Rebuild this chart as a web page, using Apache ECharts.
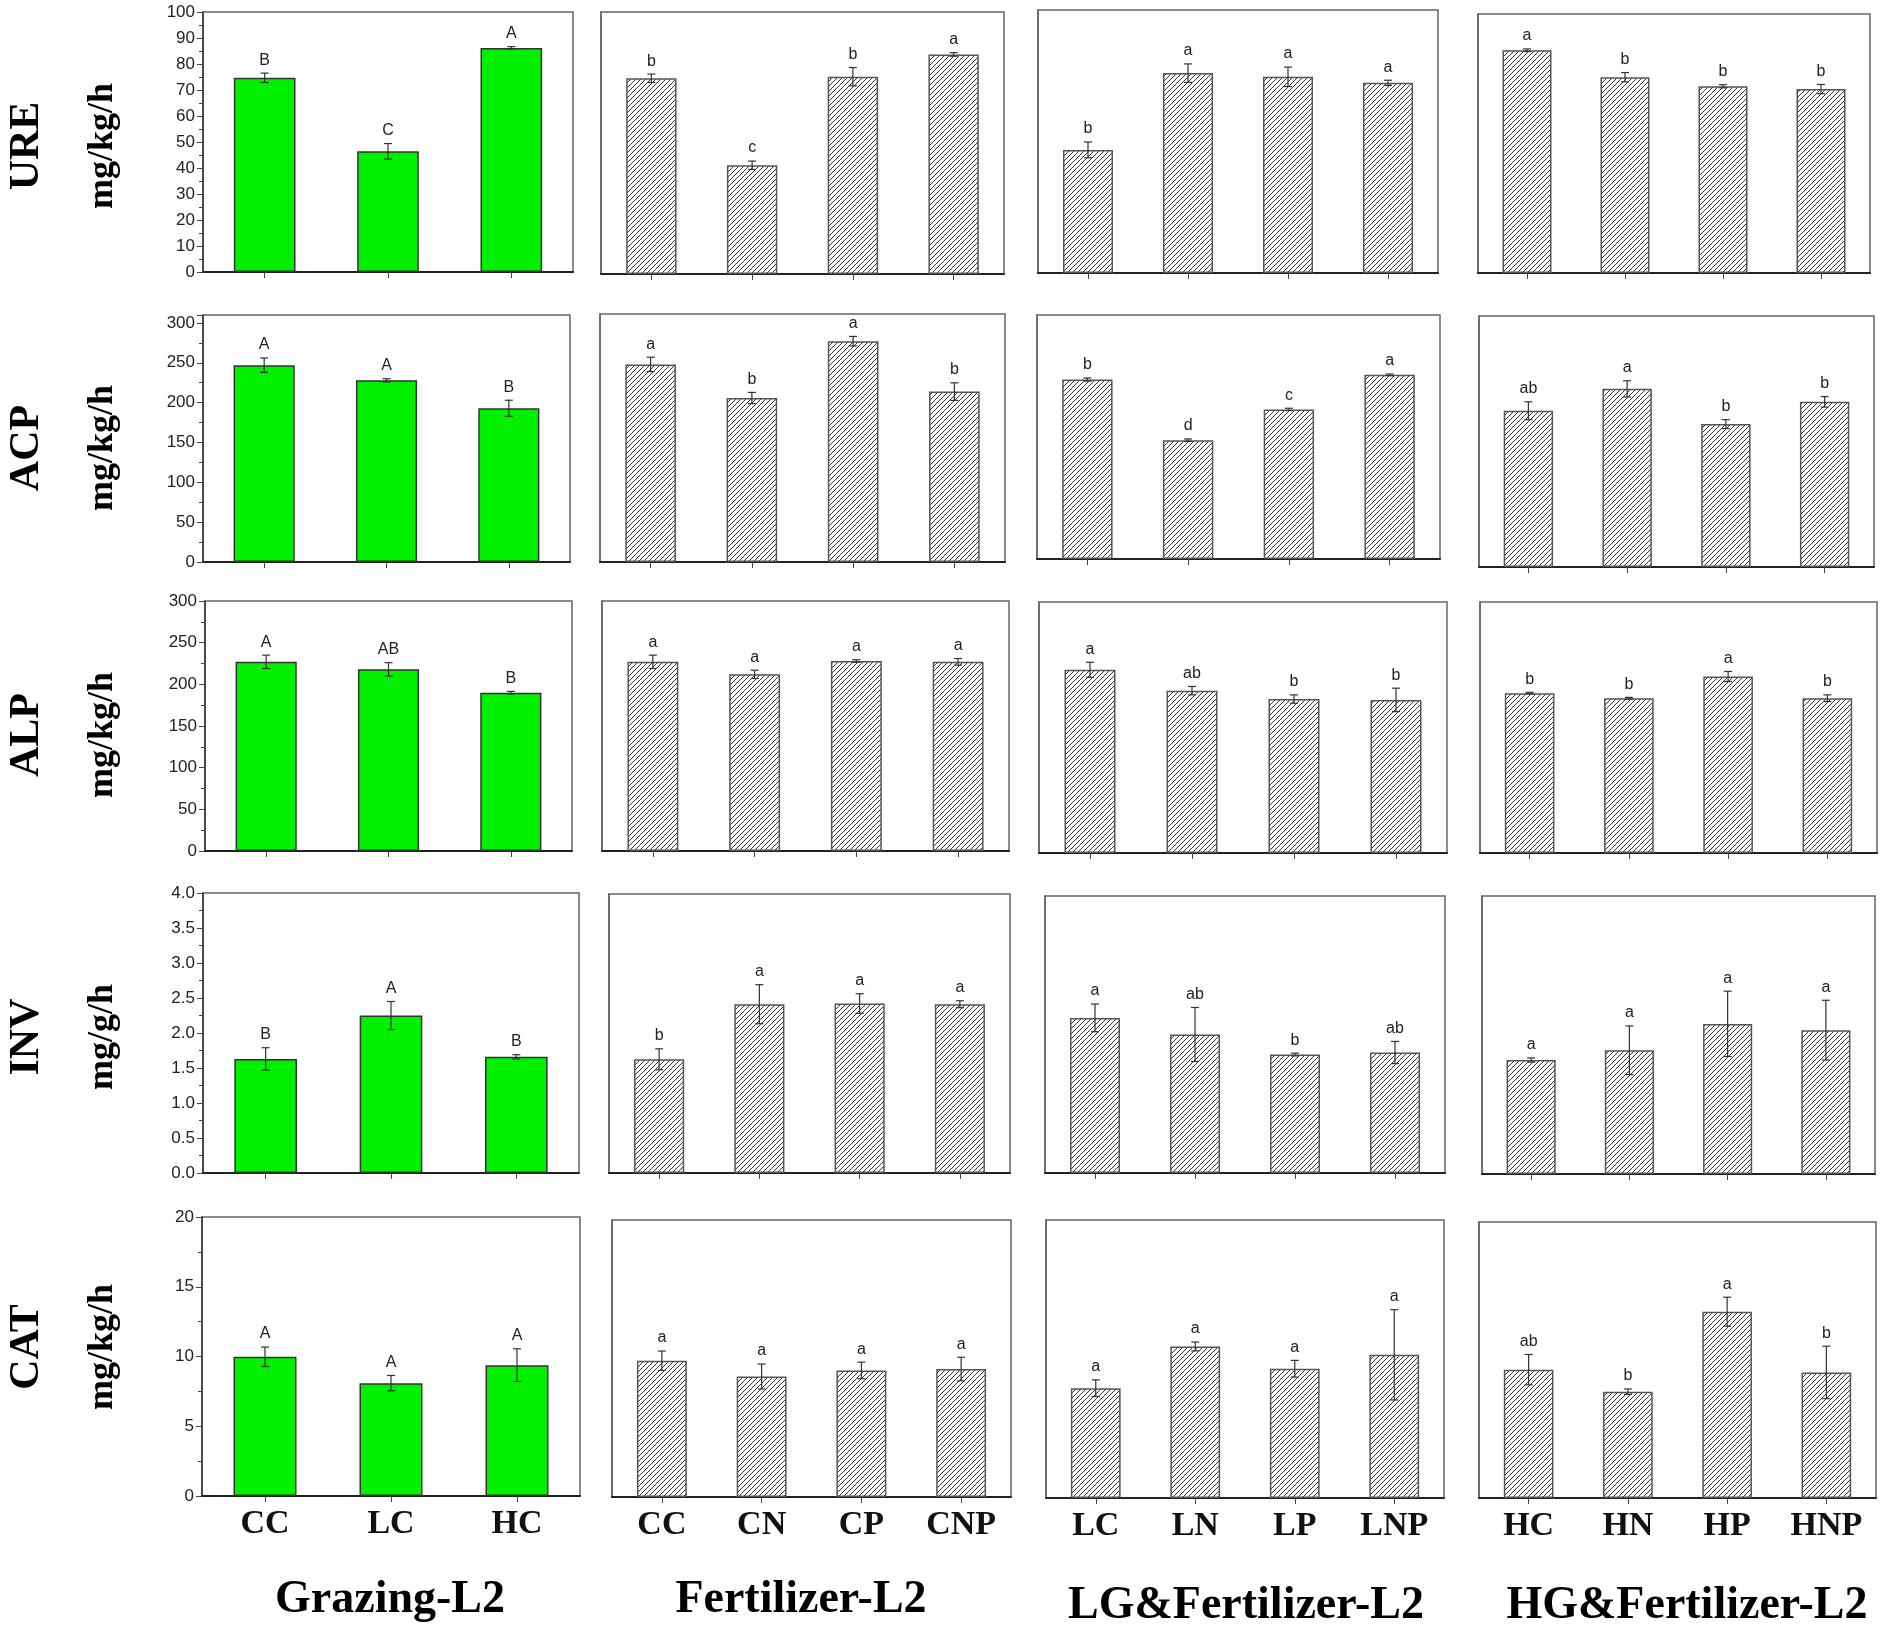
<!DOCTYPE html>
<html>
<head>
<meta charset="utf-8">
<title>Soil enzyme activity L2</title>
<script src="https://cdn.jsdelivr.net/npm/echarts@6/dist/echarts.min.js"></script>
<style>
  html, body { margin: 0; padding: 0; background: #fff; }
  #main { width: 1892px; height: 1637px; }
</style>
</head>
<body>
<div id="main"></div>
<script>
// groups (columns) and treatments
var groups = ['Grazing-L2', 'Fertilizer-L2', 'LG&Fertilizer-L2', 'HG&Fertilizer-L2'];
var treatments = [
    ['CC', 'LC', 'HC'],
    ['CC', 'CN', 'CP', 'CNP'],
    ['LC', 'LN', 'LP', 'LNP'],
    ['HC', 'HN', 'HP', 'HNP']
];
var enzymes = ['URE', 'ACP', 'ALP', 'INV', 'CAT'];
var units = ['mg/kg/h', 'mg/kg/h', 'mg/kg/h', 'mg/g/h', 'mg/kg/h'];
var yMax = [100, 310, 300, 4, 20];
var yStep = [10, 50, 50, 0.5, 5];

// URE
var ureMean = [[74.7, 46.4, 86.2], [74.7, 41.5, 75.3, 83.8], [46.8, 76, 74.6, 72.3], [86, 75.6, 72.1, 71]];
var ureErr = [[1.8, 3, 0.5], [1.6, 1.6, 3.5, 0.7], [3, 3.5, 3.7, 1], [0.5, 1.8, 0.6, 1.8]];
var ureSig = [['B', 'C', 'A'], ['b', 'c', 'b', 'a'], ['b', 'a', 'a', 'a'], ['a', 'b', 'b', 'b']];
// ACP
var acpMean = [[247, 228, 193], [247, 205, 276, 213], [228, 151, 190, 234], [193, 220, 176.5, 204]];
var acpErr = [[9, 2, 10], [9, 7, 6, 11], [2, 1.5, 1.5, 1], [11, 10, 5.5, 6.5]];
var acpSig = [['A', 'A', 'B'], ['a', 'b', 'a', 'b'], ['b', 'd', 'c', 'a'], ['ab', 'a', 'b', 'b']];
// ALP
var alpMean = [[227, 218, 190], [227, 212, 228, 227], [219, 194, 184, 183], [191, 185, 211, 185]];
var alpErr = [[8, 8, 1.5], [8, 5, 1.5, 4], [9, 5, 5, 14], [1, 1, 6, 4]];
var alpSig = [['A', 'AB', 'B'], ['a', 'a', 'a', 'a'], ['a', 'ab', 'b', 'b'], ['b', 'b', 'a', 'b']];
// INV
var invMean = [[1.63, 2.25, 1.66], [1.63, 2.42, 2.43, 2.42], [2.24, 2.0, 1.71, 1.74], [1.64, 1.78, 2.16, 2.07]];
var invErr = [[0.16, 0.2, 0.03], [0.15, 0.28, 0.14, 0.05], [0.2, 0.39, 0.02, 0.16], [0.03, 0.35, 0.47, 0.43]];
var invSig = [['B', 'A', 'B'], ['b', 'a', 'a', 'a'], ['a', 'ab', 'b', 'ab'], ['a', 'a', 'a', 'a']];
// CAT
var catMean = [[9.98, 8.09, 9.38], [9.84, 8.7, 9.14, 9.24], [7.9, 10.9, 9.3, 10.3], [9.3, 7.7, 13.5, 9.1]];
var catErr = [[0.7, 0.55, 1.17], [0.7, 0.9, 0.6, 0.85], [0.6, 0.32, 0.6, 3.25], [1.1, 0.2, 1.05, 1.9]];
var catSig = [['A', 'A', 'A'], ['a', 'a', 'a', 'a'], ['a', 'a', 'a', 'a'], ['ab', 'b', 'a', 'b']];

var means = [ureMean, acpMean, alpMean, invMean, catMean];
var errs = [ureErr, acpErr, alpErr, invErr, catErr];
var sigs = [ureSig, acpSig, alpSig, invSig, catSig];

// panel boxes [left, top, right, bottom] in px
var boxes = [
    [[203, 12, 573, 272], [601, 12, 1004, 274], [1038, 10, 1438, 273], [1478, 14, 1870, 273]],
    [[203, 315, 570, 562], [600, 314, 1005, 562], [1037, 315, 1440, 559], [1479, 316, 1874, 567]],
    [[205, 601, 572, 851], [602, 601, 1009, 851], [1039, 602, 1447, 853], [1480, 602, 1877, 853]],
    [[203, 893, 579, 1173], [609, 894, 1010, 1173], [1045, 896, 1445, 1173], [1482, 896, 1875, 1174]],
    [[202, 1217, 580, 1496], [612, 1220, 1011, 1497], [1046, 1220, 1444, 1498], [1479, 1222, 1876, 1498]]
];
var rowLabelY = [146, 448, 735, 1037, 1347];
var titleX = [390, 801, 1246, 1687];

// diagonal hatch used by the fertilizer panels
function hatch() {
    var s = 5;
    var c = document.createElement('canvas');
    c.width = s; c.height = s;
    var g = c.getContext('2d');
    g.strokeStyle = '#333';
    g.lineWidth = 1;
    g.beginPath();
    g.moveTo(0, s); g.lineTo(s, 0);
    g.moveTo(-1, 1); g.lineTo(1, -1);
    g.moveTo(s - 1, s + 1); g.lineTo(s + 1, s - 1);
    g.stroke();
    return c;
}
var hatchFill = { image: hatch(), repeat: 'repeat' };

// error bar + significance letter
function makeErrRender(letters) {
    return function (params, api) {
        var x = api.value(0), v = api.value(1), e = api.value(2);
        var top = api.coord([x, v + e]);
        var bot = api.coord([x, v - e]);
        var cap = 4;
        var line = { stroke: '#333', lineWidth: 1.2 };
        return {
            type: 'group',
            children: [
                { type: 'line', shape: { x1: top[0], y1: top[1], x2: bot[0], y2: bot[1] }, style: line },
                { type: 'line', shape: { x1: top[0] - cap, y1: top[1], x2: top[0] + cap, y2: top[1] }, style: line },
                { type: 'line', shape: { x1: bot[0] - cap, y1: bot[1], x2: bot[0] + cap, y2: bot[1] }, style: line },
                {
                    type: 'text', x: top[0], y: top[1] - 5,
                    style: {
                        text: letters[params.dataIndex], fill: '#222',
                        font: '16px "Liberation Sans", Arial, sans-serif',
                        align: 'center', verticalAlign: 'bottom',
                        textAlign: 'center', textVerticalAlign: 'bottom'
                    }
                }
            ]
        };
    };
}

var grids = [], xAxes = [], yAxes = [], series = [], graphics = [];

for (var r = 0; r < 5; r++) {
    for (var c = 0; c < 4; c++) {
        var idx = r * 4 + c;
        var b = boxes[r][c];
        grids.push({
            left: b[0], top: b[1], width: b[2] - b[0], height: b[3] - b[1],
            show: true, borderColor: '#666', borderWidth: 1.5, backgroundColor: 'transparent'
        });
        xAxes.push({
            type: 'category', gridIndex: idx, data: treatments[c],
            axisLine: { lineStyle: { color: '#222', width: 2 } },
            axisTick: { show: true, alignWithLabel: true, length: 6, lineStyle: { color: '#444' } },
            axisLabel: {
                show: r === 4, margin: 11, color: '#111',
                fontFamily: '"Liberation Serif", "Times New Roman", serif',
                fontWeight: 'bold', fontSize: 34
            }
        });
        var first = c === 0;
        yAxes.push({
            type: 'value', gridIndex: idx, min: 0, max: yMax[r], interval: yStep[r],
            splitLine: { show: false },
            axisLine: { show: true, lineStyle: { color: first ? '#333' : '#666', width: 1.5 } },
            axisTick: { show: first, length: 6, lineStyle: { color: '#444' } },
            minorTick: { show: first, splitNumber: 2, length: 4, lineStyle: { color: '#444' } },
            axisLabel: {
                show: first, margin: 8, color: '#222', fontSize: 17,
                fontFamily: '"Liberation Sans", Arial, sans-serif',
                showMaxLabel: yMax[r] % yStep[r] === 0,
                formatter: r === 3 ? function (v) { return v.toFixed(1); } : null
            }
        });
        series.push({
            type: 'bar', xAxisIndex: idx, yAxisIndex: idx,
            data: means[r][c], barWidth: '50%', silent: true,
            itemStyle: first
                ? { color: '#00f000', borderColor: '#333', borderWidth: 1.5 }
                : { color: hatchFill, borderColor: '#555', borderWidth: 1.5 }
        });
        series.push({
            type: 'custom', xAxisIndex: idx, yAxisIndex: idx, silent: true, z: 5,
            renderItem: makeErrRender(sigs[r][c]),
            encode: { x: 0, y: 1 },
            data: means[r][c].map(function (m, i) {
                return [i, m, errs[r][c][i]];
            })
        });
    }
    graphics.push({
        type: 'text', x: 27, y: rowLabelY[r], rotation: Math.PI / 2,
        style: {
            text: enzymes[r], fill: '#000',
            font: 'bold 42px "Liberation Serif", "Times New Roman", serif',
            align: 'center', verticalAlign: 'middle', textAlign: 'center', textVerticalAlign: 'middle'
        }
    });
    graphics.push({
        type: 'text', x: 103, y: rowLabelY[r], rotation: Math.PI / 2,
        style: {
            text: units[r], fill: '#000',
            font: 'bold 36px "Liberation Serif", "Times New Roman", serif',
            align: 'center', verticalAlign: 'middle', textAlign: 'center', textVerticalAlign: 'middle'
        }
    });
}

for (var k = 0; k < 4; k++) {
    graphics.push({
        type: 'text', x: titleX[k], y: k < 2 ? 1600 : 1606,
        style: {
            text: groups[k], fill: '#000',
            font: 'bold 46px "Liberation Serif", "Times New Roman", serif',
            align: 'center', verticalAlign: 'middle', textAlign: 'center', textVerticalAlign: 'middle'
        }
    });
}

var myChart = echarts.init(document.getElementById('main'));
myChart.setOption({
    animation: false,
    grid: grids,
    xAxis: xAxes,
    yAxis: yAxes,
    series: series,
    graphic: graphics
});
</script>
</body>
</html>
